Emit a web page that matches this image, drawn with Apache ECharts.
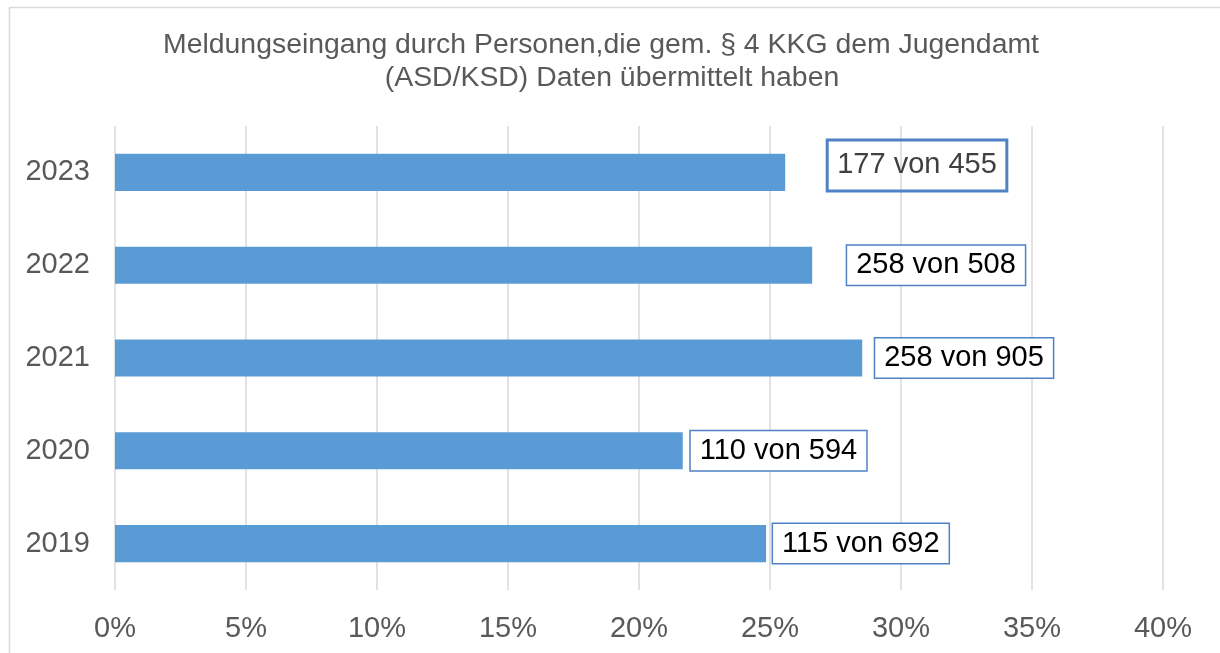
<!DOCTYPE html>
<html>
<head>
<meta charset="utf-8">
<script src="https://cdn.jsdelivr.net/npm/echarts@6/dist/echarts.min.js"></script>
<style>
html,body{margin:0;padding:0;background:#fff;}
#c{width:1220px;height:653px;}
</style>
</head>
<body>
<div id="c"></div>
<script>
const years = ['2019', '2020', '2021', '2022', '2023'];
const shares = [24.85, 21.67, 28.52, 26.61, 25.58];
const labelTexts = ['115 von 692', '110 von 594', '258 von 905', '258 von 508', '177 von 455'];
const xTicks = [0, 5, 10, 15, 20, 25, 30, 35, 40];
const titleLines = ['Meldungseingang durch Personen,die gem. § 4 KKG dem Jugendamt', '(ASD/KSD) Daten übermittelt haben'];

// styling / placement
const titlePos = [[601, 45], [612, 78]];
const labelOffsets = [[7, 0], [8, 0], [13, 0], [35, 0], [42, -7]];
const labelColors = ['#000', '#000', '#000', '#000', '#404040'];
const labelPads = [[5, 9, 4, 9], [5, 9, 4, 9], [5, 9, 4, 9], [5, 9, 4, 9], [11, 10, 10, 10]];

const font = '"Liberation Sans", Arial, sans-serif';
const chart = echarts.init(document.getElementById('c'), null, {renderer: 'canvas'});

chart.setOption({
  animation: false,
  backgroundColor: '#fff',
  graphic: [{
    type: 'rect', left: 7, top: 5, z: -10,
    shape: {width: 1400, height: 800},
    style: {fill: 'none', stroke: '#d9d9d9', lineWidth: 1.5}
  }].concat(titleLines.map((t, i) => ({
    type: 'text', x: titlePos[i][0], y: titlePos[i][1],
    style: {
      text: t, fill: '#595959', font: '28.4px ' + font,
      textAlign: 'center', textVerticalAlign: 'middle'
    }
  }))),
  grid: {left: 115, right: 57, top: 126, bottom: 63},
  xAxis: {
    type: 'value', min: 0, max: 40, interval: 5,
    axisLine: {show: false}, axisTick: {show: false},
    splitLine: {show: true, lineStyle: {color: '#d9d9d9', width: 1.5}},
    axisLabel: {
      margin: 24, fontFamily: font, fontSize: 29, color: '#595959',
      formatter: v => xTicks.includes(v) ? v + '%' : ''
    }
  },
  yAxis: {
    type: 'category', data: years,
    axisLine: {show: false}, axisTick: {show: false},
    axisLabel: {margin: 25, fontFamily: font, fontSize: 29, color: '#595959'}
  },
  series: [{
    type: 'bar',
    barCategoryGap: '60%',
    itemStyle: {color: '#5B9BD5'},
    data: shares.map((v, i) => ({
      value: v,
      label: {
        show: true, position: 'right', distance: 0,
        offset: labelOffsets[i],
        formatter: labelTexts[i],
        fontFamily: font, fontSize: 29, color: labelColors[i],
        lineHeight: 30,
        backgroundColor: i === 4 ? 'transparent' : '#fff',
        borderColor: '#4F81C5', borderWidth: 1.5,
        padding: labelPads[i]
      }
    }))
  }]
});
</script>
</body>
</html>
